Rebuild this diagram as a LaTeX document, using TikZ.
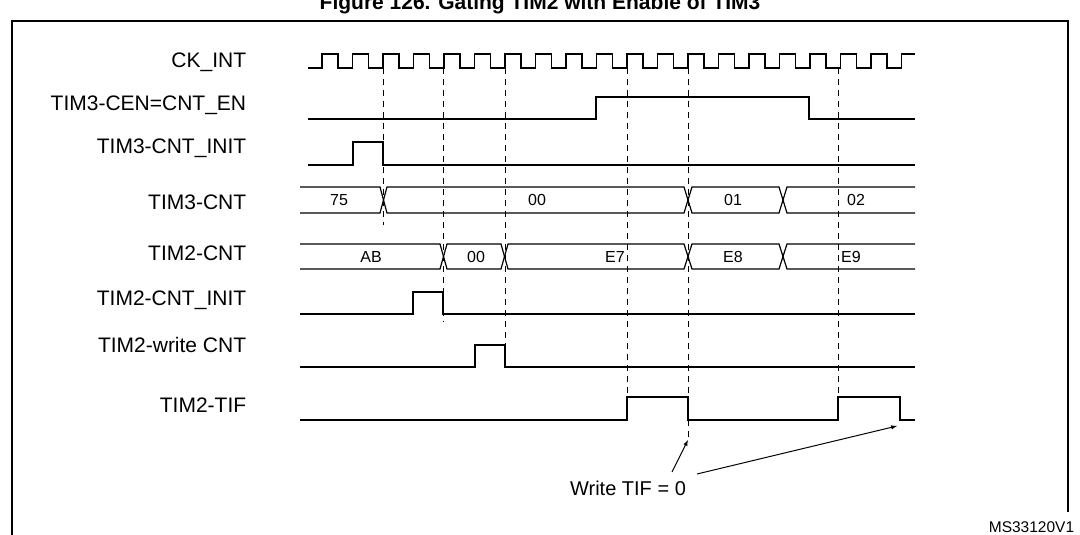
\documentclass[tikz,border=0pt]{standalone}
\usepackage{fontspec}
\setmainfont{Liberation Sans}
\begin{document}
\begin{tikzpicture}[x=1pt,y=-1pt,line width=1pt,
 lab/.style={anchor=east,font=\fontsize{21}{21}\selectfont},
 val/.style={font=\fontsize{16}{16}\selectfont},
 dsh/.style={dash pattern=on 6pt off 5pt,line width=0.9pt},
 sig/.style={line width=1.2pt}]
\clip (0,0) rectangle (1080,535);
\useasboundingbox (0,0) rectangle (1080,535);
\node[font=\bfseries\fontsize{21}{21}\selectfont] (title) at (540,4) {Figure 126. Gating TIM2 with Enable of TIM3};
\draw[line width=1.5pt] (12,545) -- (12,21) -- (1068,21) -- (1068,512);
% labels
\node[lab] (l1) at (250,62) {CK\_INT};
\node[lab] (l2) at (250,105) {TIM3-CEN=CNT\_EN};
\node[lab] (l3) at (250,148) {TIM3-CNT\_INIT};
\node[lab] (l4) at (250,202) {TIM3-CNT};
\node[lab] (l5) at (250,253) {TIM2-CNT};
\node[lab] (l6) at (250,300) {TIM2-CNT\_INIT};
\node[lab] (l7) at (250,345) {TIM2-write CNT};
\node[lab] (l8) at (250,405) {TIM2-TIF};
% dashed lines
\draw[dsh] (383,68) -- (383,225);
\draw[dsh] (443,68) -- (443,322);
\draw[dsh] (505,68) -- (505,345);
\draw[dsh] (627,68) -- (627,397);
\draw[dsh] (688,68) -- (688,442);
\draw[dsh] (838,68) -- (838,397);
% clock
\draw[sig] (308,68) -- (322,68)
 \foreach \k in {0,...,18} { -- ({322+30.5*\k},54) -- ({338+30.5*\k},54) -- ({338+30.5*\k},68) -- ({352.5+30.5*\k},68)}
 -- (901.5,54) -- (915,54);
% CEN
\draw[sig] (308,119) -- (596,119) -- (596,97) -- (809,97) -- (809,119) -- (915,119);
% TIM3 CNT_INIT
\draw[sig] (308,165) -- (353,165) -- (353,142) -- (383,142) -- (383,165) -- (915,165);
% TIM3-CNT bus
\def\yt{187}\def\yb{213}\def\ym{200}
\draw[sig] (300,\yt) -- (380,\yt) -- (387,\yb) -- (684,\yb) -- (692,\yt) -- (779,\yt) -- (787,\yb) -- (915,\yb);
\draw[sig] (300,\yb) -- (380,\yb) -- (387,\yt) -- (684,\yt) -- (692,\yb) -- (779,\yb) -- (787,\yt) -- (915,\yt);
\node[val] (v75) at (339,\ym) {75};
\node[val] (v00) at (537,\ym) {00};
\node[val] (v01) at (733,\ym) {01};
\node[val] (v02) at (856,\ym) {02};
% TIM2-CNT bus
\def\yt{244}\def\yb{269}\def\ym{256.5}
\draw[sig] (300,\yt) -- (440,\yt) -- (447,\yb) -- (501,\yb) -- (508,\yt) -- (684,\yt) -- (692,\yb) -- (779,\yb) -- (787,\yt) -- (915,\yt);
\draw[sig] (300,\yb) -- (440,\yb) -- (447,\yt) -- (501,\yt) -- (508,\yb) -- (684,\yb) -- (692,\yt) -- (779,\yt) -- (787,\yb) -- (915,\yb);
\node[val] (vAB) at (371,\ym) {AB};
\node[val] (w00) at (476,\ym) {00};
\node[val] (vE7) at (615,\ym) {E7};
\node[val] (vE8) at (733,\ym) {E8};
\node[val] (vE9) at (851,\ym) {E9};
% TIM2 CNT_INIT
\draw[sig] (300,314) -- (413,314) -- (413,292) -- (443,292) -- (443,314) -- (915,314);
% write CNT
\draw[sig] (300,367) -- (475,367) -- (475,345) -- (505,345) -- (505,367) -- (915,367);
% TIF
\draw[sig] (300,420) -- (627,420) -- (627,397) -- (688,397) -- (688,420) -- (838,420) -- (838,397) -- (900,397) -- (900,420) -- (915,420);
% annotation
\node[font=\fontsize{20}{20}\selectfont] (wt) at (628,488) {Write TIF = 0};
\coordinate (a1) at (688,440);
\coordinate (a2) at (897,426);
\draw[-latex,line width=1pt] (672,472) -- (a1);
\draw[-latex,line width=1pt] (697,474) -- (a2);
\node[font=\fontsize{15.5}{15.5}\selectfont,anchor=east] (ms) at (1078,527) {MS33120V1};
\end{tikzpicture}
\end{document}
